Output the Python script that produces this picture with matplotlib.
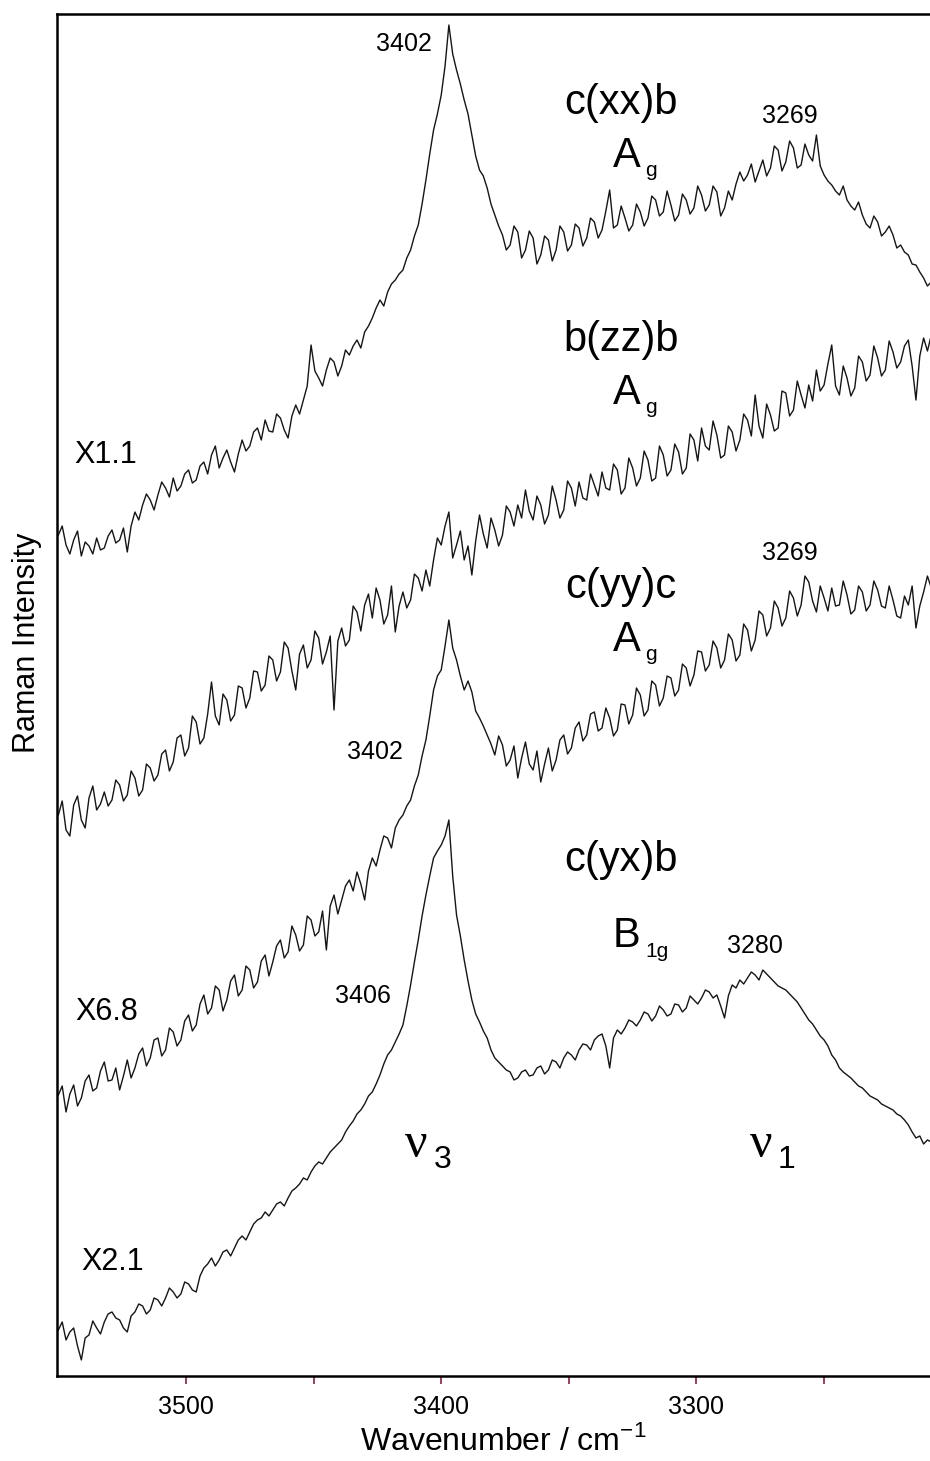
import matplotlib
matplotlib.use("Agg")
import matplotlib.pyplot as plt
import numpy as np

# ---------------- data ----------------
wavenumber = np.arange(3550, 3207, -1.5)  # cm-1, 229 samples

c_xx_b = [841, 850, 831, 822, 836, 845, 820, 834, 830, 822, 838, 826, 828, 840, 846, 833, 836, 848, 824, 850,
          864, 856, 871, 882, 876, 866, 881, 894, 888, 879, 898, 885, 890, 902, 906, 893, 896, 910, 914, 902,
          921, 930, 908, 918, 926, 914, 904, 922, 936, 925, 930, 944, 948, 936, 956, 945, 944, 962, 958, 946,
          938, 960, 971, 962, 976, 990, 1031, 1005, 998, 990, 1006, 1018, 1014, 1000, 1010, 1026, 1021, 1030, 1036, 1028,
          1044, 1050, 1058, 1068, 1076, 1070, 1084, 1092, 1096, 1102, 1106, 1118, 1126, 1140, 1151, 1172, 1196, 1222, 1246, 1262,
          1281, 1310, 1351, 1322, 1306, 1292, 1276, 1262, 1241, 1220, 1206, 1200, 1188, 1172, 1161, 1150, 1141, 1126, 1131, 1150,
          1144, 1118, 1126, 1145, 1138, 1112, 1121, 1140, 1136, 1115, 1126, 1150, 1144, 1125, 1131, 1152, 1148, 1130, 1138, 1158,
          1154, 1138, 1146, 1165, 1186, 1148, 1151, 1170, 1158, 1145, 1151, 1172, 1164, 1150, 1158, 1180, 1176, 1160, 1164, 1185,
          1171, 1155, 1161, 1182, 1176, 1162, 1168, 1190, 1181, 1165, 1171, 1190, 1184, 1160, 1168, 1185, 1176, 1192, 1204, 1195,
          1201, 1212, 1194, 1205, 1216, 1200, 1208, 1230, 1226, 1205, 1214, 1235, 1228, 1208, 1211, 1232, 1221, 1215, 1241, 1210,
          1201, 1195, 1191, 1185, 1181, 1190, 1176, 1170, 1166, 1174, 1161, 1152, 1148, 1160, 1154, 1140, 1144, 1150, 1141, 1128,
          1131, 1124, 1121, 1112, 1111, 1104, 1098, 1090, 1094]

b_zz_b = [561, 575, 546, 540, 571, 580, 556, 548, 578, 590, 566, 572, 584, 570, 576, 596, 591, 575, 581, 605,
          598, 580, 586, 612, 608, 595, 601, 622, 626, 605, 614, 638, 641, 620, 628, 660, 654, 632, 638, 662,
          694, 660, 651, 682, 676, 655, 661, 690, 688, 668, 678, 705, 704, 685, 691, 720, 716, 695, 704, 734,
          728, 705, 686, 722, 731, 708, 716, 745, 738, 712, 724, 740, 666, 735, 748, 730, 736, 770, 764, 745,
          771, 782, 758, 788, 776, 752, 761, 790, 744, 770, 784, 768, 776, 802, 798, 785, 806, 790, 816, 838,
          831, 850, 864, 818, 831, 845, 816, 830, 801, 835, 861, 842, 828, 858, 846, 830, 841, 870, 864, 850,
          871, 858, 886, 865, 856, 880, 871, 852, 861, 890, 876, 858, 866, 895, 888, 870, 894, 878, 876, 902,
          891, 880, 904, 888, 886, 912, 906, 882, 888, 918, 908, 890, 898, 925, 916, 895, 898, 930, 921, 900,
          906, 932, 924, 902, 908, 942, 936, 915, 948, 930, 926, 955, 941, 918, 921, 950, 944, 925, 936, 962,
          956, 940, 981, 950, 938, 972, 961, 945, 948, 985, 983, 960, 966, 995, 981, 968, 991, 975, 1006, 985,
          991, 1012, 1031, 990, 981, 1010, 998, 980, 988, 1020, 1014, 995, 1001, 1030, 1018, 1000, 1006, 1035, 1024, 1008,
          1014, 1030, 1036, 1010, 976, 1020, 1038, 1025, 1041]

c_yy_c = [281, 290, 264, 282, 291, 270, 278, 295, 301, 285, 288, 305, 314, 295, 296, 308, 286, 300, 316, 298,
          308, 322, 328, 310, 318, 336, 338, 320, 326, 348, 344, 330, 336, 355, 361, 345, 351, 372, 381, 362,
          368, 390, 386, 365, 376, 395, 401, 380, 386, 410, 406, 388, 394, 415, 421, 400, 414, 430, 436, 418,
          424, 450, 441, 425, 431, 460, 456, 440, 444, 465, 426, 470, 481, 462, 476, 490, 496, 485, 504, 492,
          476, 505, 518, 510, 526, 540, 538, 528, 548, 556, 561, 570, 576, 590, 601, 620, 636, 660, 686, 700,
          706, 730, 756, 728, 716, 700, 686, 695, 684, 665, 658, 650, 641, 632, 621, 640, 631, 610, 616, 630,
          598, 618, 634, 612, 606, 625, 594, 612, 628, 605, 616, 636, 641, 622, 628, 648, 654, 635, 641, 662,
          664, 645, 648, 668, 658, 640, 646, 672, 671, 652, 661, 688, 681, 660, 666, 695, 691, 670, 678, 700,
          698, 680, 686, 712, 708, 690, 701, 725, 724, 705, 711, 735, 728, 708, 716, 742, 736, 715, 721, 752,
          746, 725, 736, 765, 761, 740, 748, 775, 768, 750, 758, 785, 778, 760, 771, 800, 794, 775, 764, 790,
          778, 765, 788, 770, 771, 795, 781, 762, 766, 790, 784, 765, 771, 795, 786, 770, 768, 790, 776, 760,
          758, 780, 771, 790, 748, 770, 784, 800, 788]

c_yx_b = [46, 54, 36, 44, 48, 30, 16, 38, 41, 55, 48, 42, 54, 62, 64, 58, 56, 48, 44, 60,
          64, 72, 70, 62, 66, 78, 76, 70, 78, 88, 84, 78, 82, 94, 92, 86, 84, 100, 108, 112,
          118, 110, 116, 124, 126, 120, 128, 136, 140, 136, 144, 152, 156, 158, 164, 160, 166, 172, 174, 170,
          178, 185, 188, 192, 198, 196, 204, 210, 214, 212, 218, 224, 228, 232, 236, 244, 250, 255, 262, 266,
          272, 280, 284, 292, 301, 312, 321, 326, 334, 342, 351, 370, 391, 414, 436, 460, 481, 500, 518, 525,
          531, 540, 556, 500, 461, 440, 416, 395, 376, 362, 354, 345, 338, 326, 318, 314, 310, 306, 304, 296,
          298, 304, 306, 300, 301, 308, 310, 302, 306, 316, 314, 308, 318, 324, 321, 316, 326, 332, 331, 326,
          336, 340, 342, 330, 308, 338, 346, 342, 348, 356, 354, 350, 356, 364, 362, 355, 360, 370, 366, 360,
          362, 372, 371, 364, 368, 380, 376, 372, 378, 386, 384, 378, 381, 370, 358, 380, 391, 388, 396, 392,
          398, 404, 401, 396, 406, 402, 398, 394, 390, 388, 386, 382, 378, 374, 368, 362, 356, 352, 346, 340,
          336, 330, 321, 316, 308, 304, 301, 298, 294, 290, 288, 284, 280, 278, 276, 272, 270, 268, 266, 262,
          260, 256, 251, 244, 238, 240, 232, 236, 234]

x_ticks = [3500, 3400, 3300]
x_minor_ticks = [3450, 3350, 3250]
tick_labels = ["3500", "3400", "3300"]

# ---------------- figure ----------------
plt.rcParams["font.family"] = ["Liberation Sans", "DejaVu Sans"]
fig = plt.figure(figsize=(9.30, 14.61), dpi=100)
ax = fig.add_axes([0.0618, 0.0582, 0.9382, 0.9322])

for series in (c_xx_b, b_zz_b, c_yy_c, c_yx_b):
    ax.plot(wavenumber, series, color="#151515", lw=1.0)

ax.set_xlim(3550.35, 3208.5)
ax.set_ylim(0, 1362)

for s in ("left", "bottom", "top"):
    ax.spines[s].set_linewidth(1.8)
ax.spines["right"].set_visible(False)

ax.set_yticks([])
ax.set_xticks(x_ticks)
ax.set_xticklabels(tick_labels, fontsize=18)
ax.set_xticks(x_minor_ticks, minor=True)
ax.tick_params(axis="x", which="both", direction="out", length=6,
               width=1.1, color="#7a0a2e", pad=8)

ax.set_xlabel("Wavenumber / cm$^{\\mathregular{-1}}$", fontsize=23, va="top")
ax.xaxis.set_label_coords(0.511, -0.036)
ax.set_ylabel("Raman Intensity", fontsize=22, va="center", ha="center")
ax.yaxis.set_label_coords(-0.035, 0.538)

# ---------------- annotations ----------------
num_fs = 18
lab_fs = 30
mul_fs = 22
sub_fs = 15

ax.text(3414.6, 1332, "3402", fontsize=num_fs, ha="center", va="center")
ax.text(3263.3, 1260, "3269", fontsize=num_fs, ha="center", va="center")
ax.text(3263.3, 823, "3269", fontsize=num_fs, ha="center", va="center")
ax.text(3425.9, 624, "3402", fontsize=num_fs, ha="center", va="center")
ax.text(3277.0, 430, "3280", fontsize=num_fs, ha="center", va="center")
ax.text(3430.6, 380, "3406", fontsize=num_fs, ha="center", va="center")

for label, yc, ybase in (("c(xx)b", 1273, 1209), ("b(zz)b", 1036, 972),
                         ("c(yy)c", 789, 725)):
    ax.text(3329.5, yc, label, fontsize=lab_fs, ha="center", va="center")
    ax.text(3327.2, ybase, "A", fontsize=lab_fs, ha="center", va="baseline")
    ax.text(3320.1, ybase - 9, "g", fontsize=sub_fs, ha="left", va="baseline")

ax.text(3329.5, 516, "c(yx)b", fontsize=lab_fs, ha="center", va="center")
ax.text(3327.5, 429, "B", fontsize=lab_fs, ha="center", va="baseline")
ax.text(3320.1, 419, "1g", fontsize=sub_fs, ha="left", va="baseline")

ax.text(3531.3, 921, "X1.1", fontsize=mul_fs, ha="center", va="center")
ax.text(3531.0, 364, "X6.8", fontsize=mul_fs, ha="center", va="center")
ax.text(3528.6, 114, "X2.1", fontsize=mul_fs, ha="center", va="center")

for nu_x, sub_x, sub in ((3414.2, 3403.0, "3"), (3279.0, 3268.3, "1")):
    ax.text(nu_x, 219, "\u03bd", fontsize=36, family="Liberation Serif",
            ha="left", va="baseline")
    ax.text(sub_x, 208, sub, fontsize=23, ha="left", va="baseline")

fig.savefig("out.png", dpi=100)
